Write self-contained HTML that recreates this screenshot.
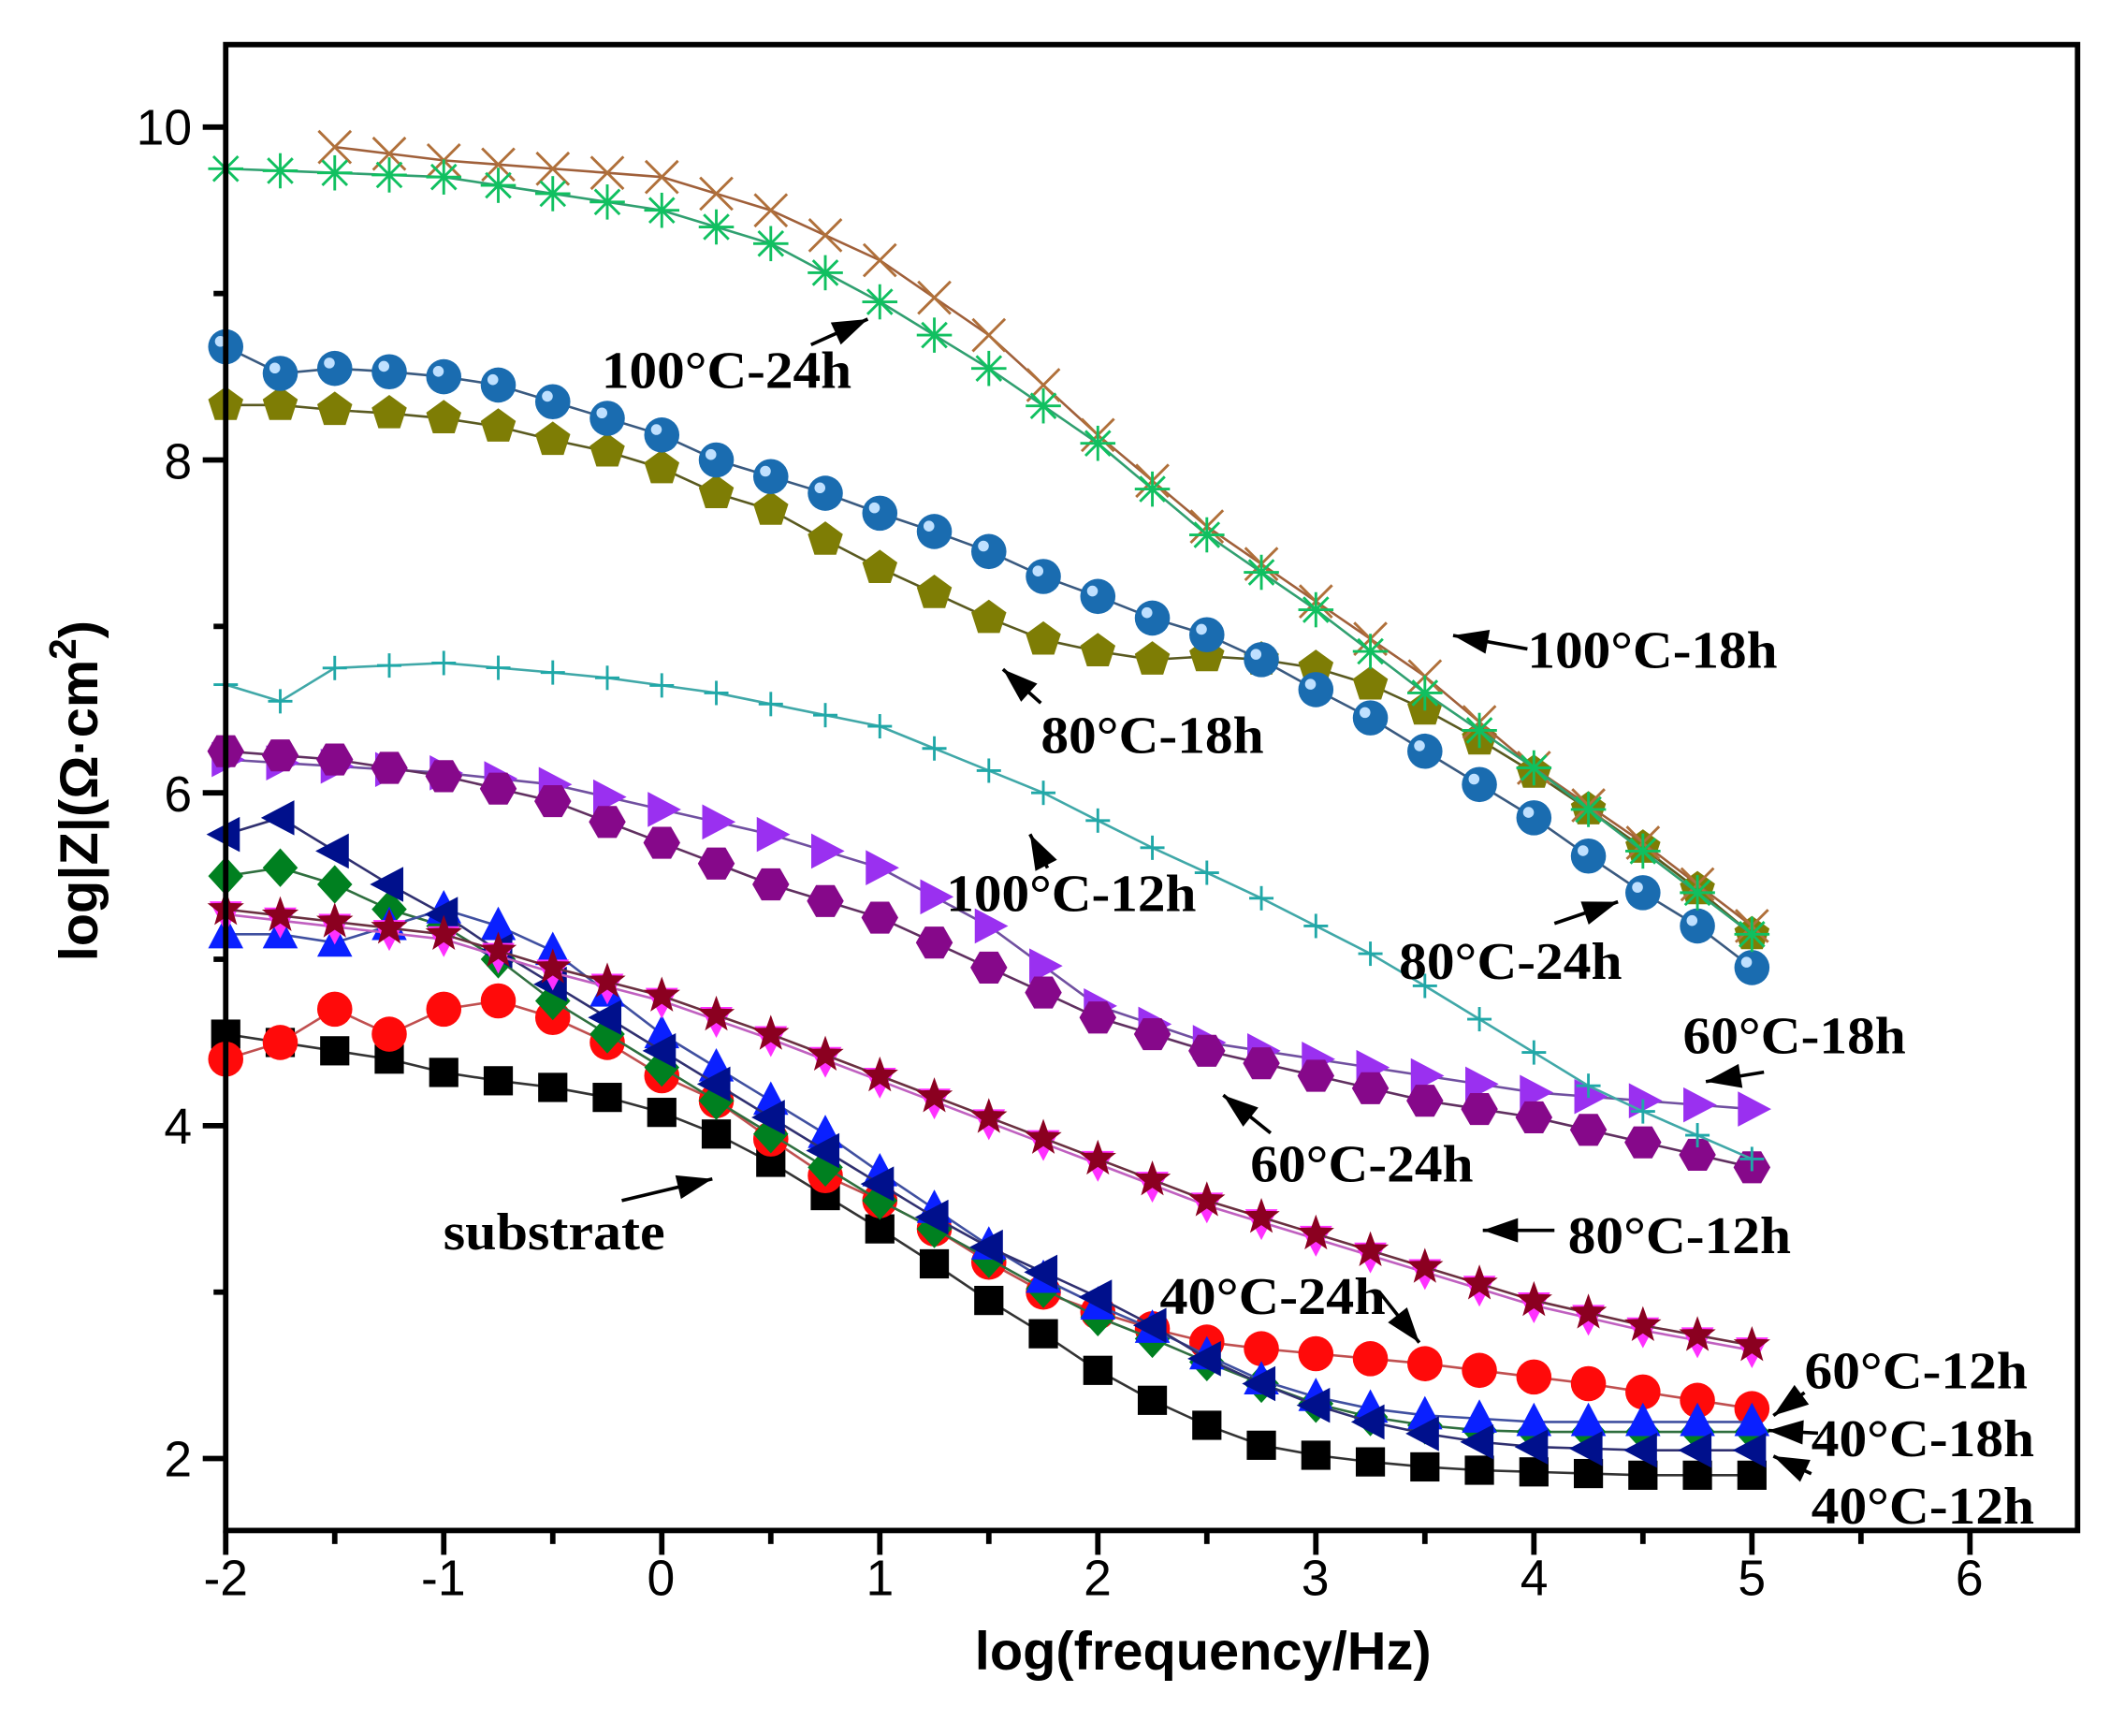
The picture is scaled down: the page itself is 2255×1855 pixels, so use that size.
<!DOCTYPE html>
<html><head><meta charset="utf-8"><style>
html,body{margin:0;padding:0;background:#fff;width:2255px;height:1855px;overflow:hidden}
svg{display:block}
.t{font-family:"Liberation Sans",Arial,sans-serif;font-size:37px;fill:#000}
.a{font-family:"Liberation Serif","Times New Roman",serif;font-weight:bold;font-size:39px;fill:#000}
</style></head><body>
<svg id="s" width="2255" height="1855" viewBox="0 0 1561 1284" preserveAspectRatio="none" xmlns="http://www.w3.org/2000/svg">
<rect x="0" y="0" width="1561" height="1284" fill="#fff"/>
<g id="data"></g>
<rect x="167" y="33" width="1370" height="1099" fill="none" stroke="#000" stroke-width="4"/>
<g id="ticks" stroke="#000" stroke-width="4"></g>
<g class="t" text-anchor="end">
<text x="142" y="107">10</text><text x="142" y="354">8</text><text x="142" y="600">6</text><text x="142" y="846">4</text><text x="142" y="1092">2</text>
</g>
<g class="t" text-anchor="middle">
<text x="167" y="1180">-2</text><text x="328" y="1180">-1</text><text x="489" y="1180">0</text><text x="651" y="1180">1</text><text x="812" y="1180">2</text><text x="973" y="1180">3</text><text x="1135" y="1180">4</text><text x="1296" y="1180">5</text><text x="1457" y="1180">6</text>
</g>
<text x="890" y="1235" text-anchor="middle" style="font-family:'Liberation Sans',Arial,sans-serif;font-weight:bold;font-size:40px">log(frequency/Hz)</text>
<text transform="translate(72,585) rotate(-90)" text-anchor="middle" style="font-family:'Liberation Sans',Arial,sans-serif;font-weight:bold;font-size:40px">log|Z|(Ω·cm<tspan dy="-16" font-size="28">2</tspan><tspan dy="16">)</tspan></text>
<g class="a" lengthAdjust="spacingAndGlyphs">
<text x="445" y="287" textLength="185" lengthAdjust="spacingAndGlyphs">100°C-24h</text>
<text x="1130" y="494" textLength="185" lengthAdjust="spacingAndGlyphs">100°C-18h</text>
<text x="770" y="557" textLength="165" lengthAdjust="spacingAndGlyphs">80°C-18h</text>
<text x="700" y="674" textLength="185" lengthAdjust="spacingAndGlyphs">100°C-12h</text>
<text x="1035" y="724" textLength="165" lengthAdjust="spacingAndGlyphs">80°C-24h</text>
<text x="1245" y="779" textLength="165" lengthAdjust="spacingAndGlyphs">60°C-18h</text>
<text x="925" y="874" textLength="165" lengthAdjust="spacingAndGlyphs">60°C-24h</text>
<text x="328" y="924" textLength="164" lengthAdjust="spacingAndGlyphs">substrate</text>
<text x="1160" y="927" textLength="165" lengthAdjust="spacingAndGlyphs">80°C-12h</text>
<text x="858" y="972" textLength="167" lengthAdjust="spacingAndGlyphs">40°C-24h</text>
<text x="1335" y="1027" textLength="165" lengthAdjust="spacingAndGlyphs">60°C-12h</text>
<text x="1340" y="1077" textLength="165" lengthAdjust="spacingAndGlyphs">40°C-18h</text>
<text x="1340" y="1127" textLength="165" lengthAdjust="spacingAndGlyphs">40°C-12h</text>
</g>
<g id="arrows" stroke="#000" stroke-width="2.5"></g>
</svg>
<script>
var NS="http://www.w3.org/2000/svg";
function X(v){return 167+161.3*(v+2);}
function Y(v){return 94+(10-v)*123.1;}
function el(t,a,p){var e=document.createElementNS(NS,t);for(var k in a)e.setAttribute(k,a[k]);(p||D).appendChild(e);return e;}
var D=document.getElementById('data'),T=document.getElementById('ticks'),A=document.getElementById('arrows');
for(var i=2;i<=10;i++){var y=Y(i);el('line',{x1:167,x2:i%2==0?150:158,y1:y,y2:y},T);}
for(var v=-2;v<=6.01;v+=0.5){var x=X(v);el('line',{x1:x,x2:x,y1:1132,y2:Math.abs(v-Math.round(v))<0.01?1150:1142},T);}
var xs=[];for(var i=0;i<29;i++)xs.push(-2+0.25*i);
function interp(k){return xs.map(function(x){if(x<=k[0][0])return k[0][1];for(var j=1;j<k.length;j++){if(x<=k[j][0]){var t=(x-k[j-1][0])/(k[j][0]-k[j-1][0]);return k[j-1][1]+t*(k[j][1]-k[j-1][1]);}}return k[k.length-1][1];});}
function poly(n,r,rot){var p=[];for(var i=0;i<n;i++){var a=rot+2*Math.PI*i/n;p.push([r*Math.cos(a),r*Math.sin(a)]);}return p;}
function mk(type,x,y,c,s){
 var r=s||13;
 if(type=='circle'){el('circle',{cx:x,cy:y,r:r,fill:c});}
 else if(type=='sphere'){el('circle',{cx:x,cy:y,r:r,fill:c});el('circle',{cx:x-4,cy:y-4,r:4,fill:'#bfe0ff'});}
 else if(type=='square'){el('rect',{x:x-r*0.9,y:y-r*0.9,width:r*1.8,height:r*1.8,fill:c});}
 else{var pts;
  if(type=='up')pts=[[0,-r*1.1],[r,r*0.8],[-r,r*0.8]];
  else if(type=='down')pts=[[0,r*1.1],[r,-r*0.8],[-r,-r*0.8]];
  else if(type=='left')pts=[[-r*1.1,0],[r*0.8,-r],[r*0.8,r]];
  else if(type=='right')pts=[[r*1.1,0],[-r*0.8,-r],[-r*0.8,r]];
  else if(type=='diamond')pts=[[0,-r*1.1],[r,0],[0,r*1.1],[-r,0]];
  else if(type=='pent')pts=poly(5,r*1.05,-Math.PI/2);
  else if(type=='hex')pts=poly(6,r*1.05,0);
  else if(type=='star'){pts=[];for(var i=0;i<10;i++){var a=-Math.PI/2+Math.PI*i/5,rr=i%2?r*0.45:r*1.1;pts.push([rr*Math.cos(a),rr*Math.sin(a)]);}}
  if(pts){el('polygon',{points:pts.map(function(p){return (x+p[0])+','+(y+p[1]);}).join(' '),fill:c});return;}
  if(type=='ast'){for(var i=0;i<4;i++){var a=Math.PI*i/4;el('line',{x1:x-r*Math.cos(a),y1:y-r*Math.sin(a),x2:x+r*Math.cos(a),y2:y+r*Math.sin(a),stroke:c,'stroke-width':2});}}
  else if(type=='x'){el('line',{x1:x-r,y1:y-r,x2:x+r,y2:y+r,stroke:c,'stroke-width':2});el('line',{x1:x-r,y1:y+r,x2:x+r,y2:y-r,stroke:c,'stroke-width':2});}
  else if(type=='plus'){el('line',{x1:x-r,y1:y,x2:x+r,y2:y,stroke:c,'stroke-width':2});el('line',{x1:x,y1:y-r,x2:x,y2:y+r,stroke:c,'stroke-width':2});}
 }
}
function series(vals,type,c,lc,s,start){
 var pts=[];for(var i=start||0;i<29;i++)pts.push(X(xs[i])+','+Y(vals[i]));
 el('polyline',{points:pts.join(' '),fill:'none',stroke:lc,'stroke-width':1.8});
 for(var i=start||0;i<29;i++)mk(type,X(xs[i]),Y(vals[i]),c,s);
}
series(interp([[-2,4.55],[-1.75,4.5],[-1.5,4.45],[-1.25,4.4],[-1,4.32],[-0.75,4.27],[-0.5,4.23],[-0.25,4.17],[0,4.08],[0.25,3.95],[0.5,3.78],[0.75,3.58],[1,3.38],[1.25,3.17],[1.5,2.95],[1.75,2.75],[2,2.53],[2.25,2.35],[2.5,2.2],[2.75,2.08],[3,2.02],[3.25,1.98],[3.5,1.95],[3.75,1.93],[4,1.92],[4.5,1.9],[5,1.9]]),'square','#000','#333',12);
var red=[4.4,4.5,4.7,4.55,4.7,4.75,4.65,4.5,4.3,4.15,3.92,3.7,3.55,3.38,3.18,3.0,2.88,2.78,2.7,2.66,2.63,2.6,2.57,2.53,2.49,2.45,2.4,2.35,2.3];
series(red,'circle','#ff0a0a','#c05050',13);
series([5.5,5.55,5.45,5.3,5.2,5.0,4.75,4.55,4.35,4.15,3.95,3.75,3.55,3.38,3.2,3.02,2.85,2.72,2.58,2.45,2.33,2.25,2.2,2.17,2.16,2.16,2.16,2.16,2.16],'diamond','#008020','#2f6f3f',13);
series([5.15,5.15,5.1,5.2,5.3,5.2,5.05,4.8,4.55,4.35,4.15,3.95,3.72,3.5,3.28,3.08,2.92,2.78,2.62,2.47,2.37,2.3,2.26,2.24,2.22,2.22,2.22,2.22,2.22],'up','#0a20ff','#4050a0',13);
series([5.75,5.85,5.65,5.45,5.27,5.05,4.85,4.65,4.45,4.25,4.05,3.85,3.65,3.45,3.27,3.12,2.97,2.8,2.6,2.45,2.32,2.22,2.15,2.1,2.07,2.06,2.05,2.05,2.05],'left','#00108c','#303070',13);
var st=interp([[-2,5.3],[-1,5.15],[-0.5,4.95],[0,4.78],[0.5,4.55],[1,4.3],[1.5,4.05],[2,3.8],[2.5,3.55],[3,3.35],[3.5,3.15],[4,2.95],[4.5,2.8],[5,2.68]]);
series(st.map(function(v){return v-0.03;}),'down','#ff30ff','#c060c0',12);
series(st,'star','#8b0020','#6a3040',13);
series(interp([[-2,6.2],[-1,6.12],[-0.5,6.05],[0,5.9],[0.5,5.75],[1,5.55],[1.5,5.2],[2,4.72],[2.5,4.5],[3,4.4],[3.5,4.3],[4,4.2],[4.5,4.15],[5,4.1]]),'right','#9a30f0','#7050a0',13);
series(interp([[-2,6.25],[-1.5,6.2],[-1,6.1],[-0.5,5.95],[0,5.7],[0.5,5.45],[1,5.25],[1.5,4.95],[2,4.65],[2.5,4.45],[3,4.3],[3.5,4.15],[4,4.05],[4.5,3.9],[5,3.75]]),'hex','#86088a','#603060',13);
series(interp([[-2,6.65],[-1.75,6.55],[-1.5,6.75],[-1,6.78],[-0.3,6.7],[0.25,6.6],[1,6.4],[1.75,6.0],[2.2,5.7],[2.7,5.4],[3.3,5.0],[3.8,4.6],[4.3,4.2],[5,3.8]]),'plus','#20a8a8','#40a8a8',9);
series([8.33,8.33,8.3,8.28,8.25,8.2,8.12,8.05,7.95,7.8,7.7,7.52,7.35,7.2,7.05,6.92,6.85,6.8,6.82,6.8,6.75,6.65,6.5,6.32,6.12,5.9,5.67,5.42,5.15],'pent','#7e7d05','#5a5a20',13);
series([8.68,8.52,8.55,8.53,8.5,8.45,8.35,8.25,8.15,8.0,7.9,7.8,7.68,7.57,7.45,7.3,7.18,7.05,6.95,6.8,6.62,6.45,6.25,6.05,5.85,5.62,5.4,5.2,4.95],'sphere','#1a6cb0','#3a5a80',13);
series(interp([[-2,9.75],[-1.5,9.88],[-1,9.8],[0,9.7],[0.5,9.5],[1,9.2],[1.5,8.75],[2,8.15],[2.5,7.6],[3,7.15],[3.5,6.7],[4,6.15],[4.5,5.7],[5,5.2]]),'x','#b0703a','#a0603a',12,2);
series(interp([[-2,9.75],[-1,9.7],[-0.5,9.6],[0,9.5],[0.5,9.3],[1,8.95],[1.5,8.55],[2,8.1],[2.5,7.55],[3,7.1],[3.5,6.6],[4,6.15],[4.5,5.65],[5,5.15]]),'ast','#10c060','#30a070',13);
function arrow(x1,y1,x2,y2){el('line',{x1:x1,y1:y1,x2:x2,y2:y2},A);var a=Math.atan2(y2-y1,x2-x1),L=26,W=9;
 var p=[[x2,y2],[x2-L*Math.cos(a)+W*Math.sin(a),y2-L*Math.sin(a)-W*Math.cos(a)],[x2-L*Math.cos(a)-W*Math.sin(a),y2-L*Math.sin(a)+W*Math.cos(a)]];
 el('polygon',{points:p.map(function(q){return q.join(',');}).join(' '),fill:'#000',stroke:'none'},A);}
arrow(600,255,642,236);arrow(1130,480,1075,470);arrow(770,520,742,495);arrow(775,642,762,617);
arrow(1150,683,1197,667);arrow(1305,793,1262,800);arrow(940,838,905,810);arrow(460,888,527,872);
arrow(1150,910,1097,910);arrow(1020,955,1050,993);arrow(1335,1030,1312,1047);arrow(1345,1060,1308,1058);arrow(1340,1090,1312,1077);
</script>
</body></html>
